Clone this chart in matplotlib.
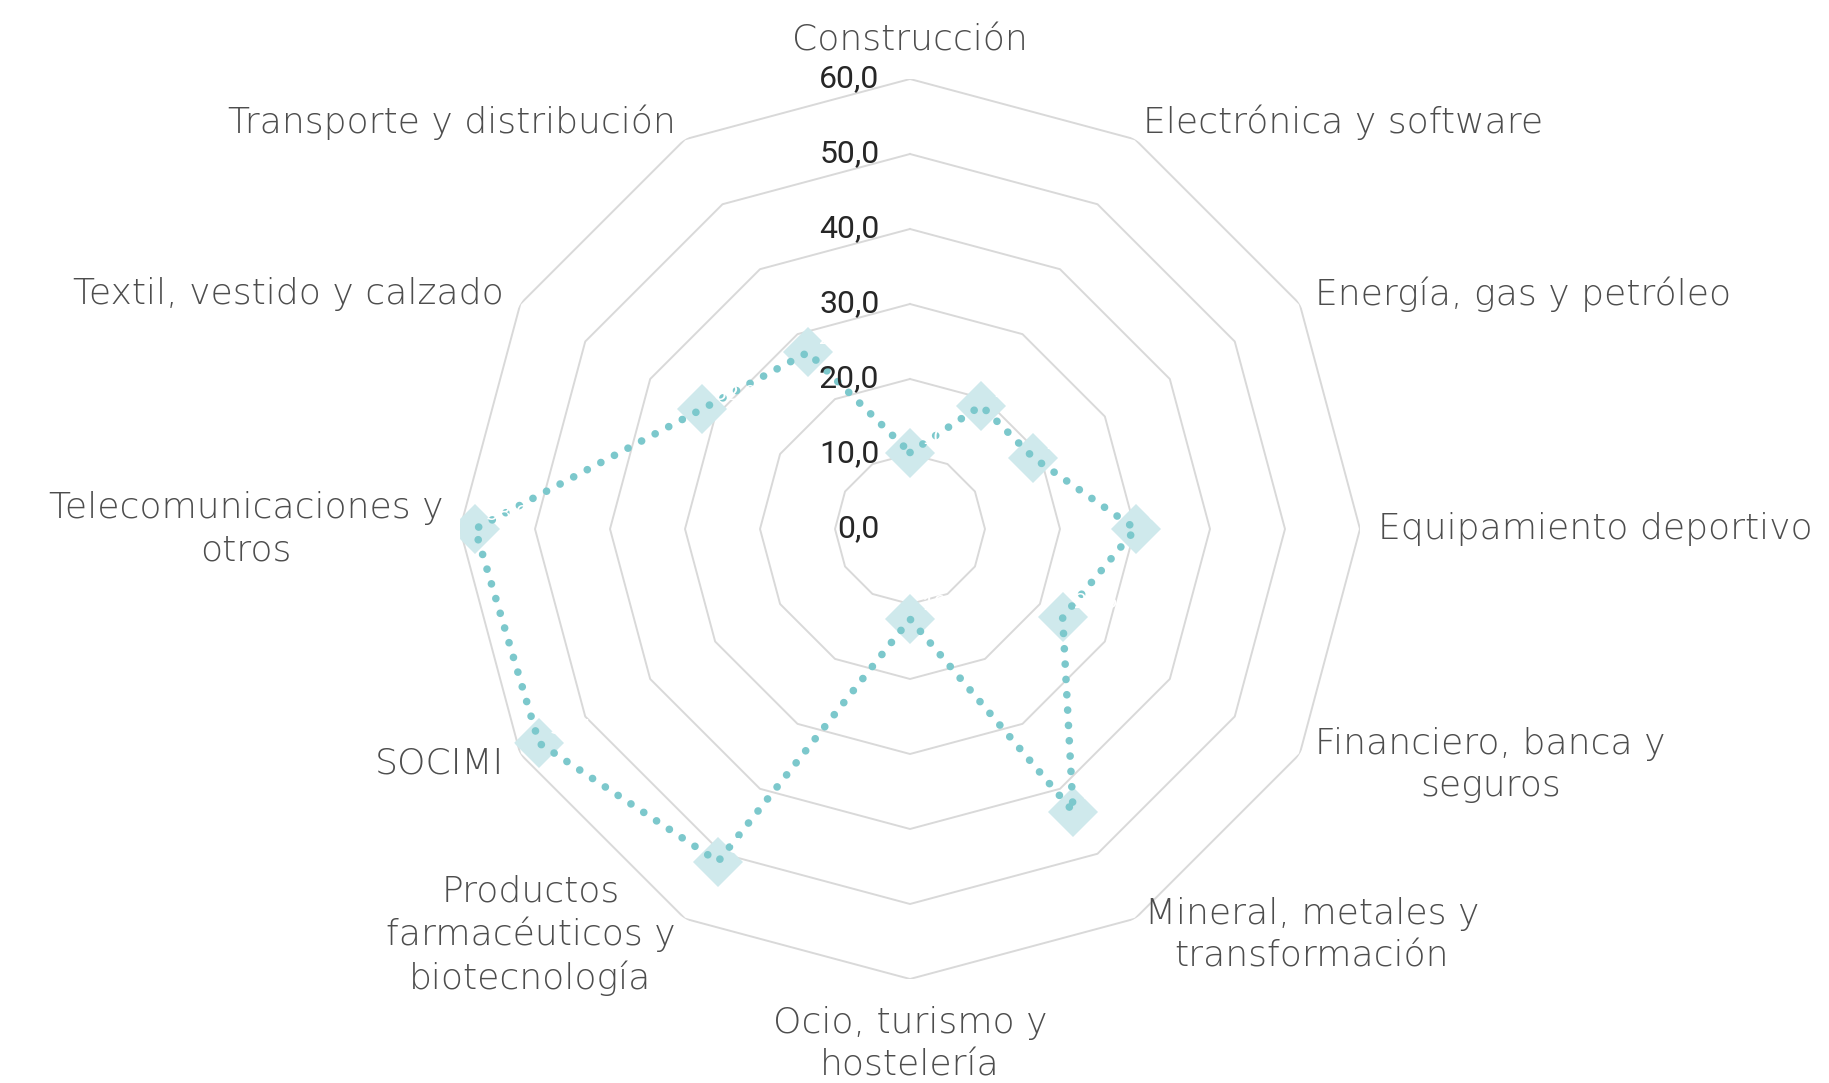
import numpy as np
import matplotlib
matplotlib.use("Agg")
import matplotlib.pyplot as plt

# categories, clockwise from the top
categories = [
    "Construcción",
    "Electrónica y software",
    "Energía, gas y petróleo",
    "Equipamiento deportivo",
    "Financiero, banca y\nseguros",
    "Mineral, metales y\ntransformación",
    "Ocio, turismo y\nhostelería",
    "Productos\nfarmacéuticos y\nbiotecnología",
    "SOCIMI",
    "Telecomunicaciones y\notros",
    "Textil, vestido y calzado",
    "Transporte y distribución",
]
values = [10.2, 19.0, 19.0, 30.1, 23.5, 43.5, 12.0, 51.2, 57.1, 58.0, 32.0, 27.2]
ring_values = [10, 20, 30, 40, 50, 60]
tick_values = [0, 10, 20, 30, 40, 50, 60]

W, H = 1829, 1083
fig = plt.figure(figsize=(W / 100, H / 100), dpi=100)

# polar axes placed so that the centre is at (910, 529) px and r=60 at 450 px
cx, cy, R = 910, 529, 450
ax = fig.add_axes([(cx - R) / W, (H - cy - R) / H, 2 * R / W, 2 * R / H],
                  projection="polar")
ax.set_theta_zero_location("N")
ax.set_theta_direction(-1)
ax.set_ylim(0, 60)
ax.grid(False)
ax.spines["polar"].set_visible(False)
ax.set_xticks([])
ax.set_yticks([])
ax.patch.set_alpha(0)

n = len(categories)
angles = np.arange(n) * 2 * np.pi / n
closed = np.append(angles, angles[0])

grid_col = "#d9d9d9"
for r in ring_values:
    ax.plot(closed, [r] * (n + 1), color=grid_col, lw=1.4, zorder=1)

# radial tick labels
for t in tick_values:
    ax.annotate(f"{t:.1f}".replace(".", ","), xy=(0, t), xytext=(-22, 0),
                textcoords="offset points", ha="right", va="center",
                fontsize=23, color="#262626", family="Roboto",
                fontweight="normal", zorder=5)

# markers then the dotted line on top
ax.plot(angles, values, linestyle="none", marker="D", markersize=25,
        color="#cfe9ec", markeredgewidth=0, zorder=3)
ax.plot(closed, values + values[:1], color="#7cc8cc", lw=5.5,
        linestyle=(0, (0.01, 2)), dash_capstyle="round", zorder=4)

# white data labels (barely visible, as in the reference)
for a, v in zip(angles, values):
    ax.annotate(f"{v:.1f}".replace(".", ","), xy=(a, v), xytext=(8, 4),
                textcoords="offset points", ha="left", va="bottom",
                fontsize=16, color="white", family="Lato", zorder=6)

# category labels: (ha, dx, dy) in points from the outer vertex
label_style = [
    ("center", 0, 28),
    ("left", 6, 12),
    ("left", 11, 7),
    ("left", 13, 0),
    ("left", 11, -8),
    ("left", 7, -12),
    ("center", 0, -47),
    ("right", -7, -12),
    ("right", -12, -7),
    ("right", -12, 0),
    ("right", -12, 7),
    ("right", -7, 12),
]
for a, lab, (ha, dx, dy) in zip(angles, categories, label_style):
    ax.annotate(lab, xy=(a, 60), xytext=(dx, dy), textcoords="offset points",
                ha=ha, va="center", multialignment="center", fontsize=26,
                linespacing=1.3, color="#4d4d4d", family="DejaVu Sans",
                fontweight=200, annotation_clip=False)

fig.savefig("out.png", dpi=100, facecolor="white")
